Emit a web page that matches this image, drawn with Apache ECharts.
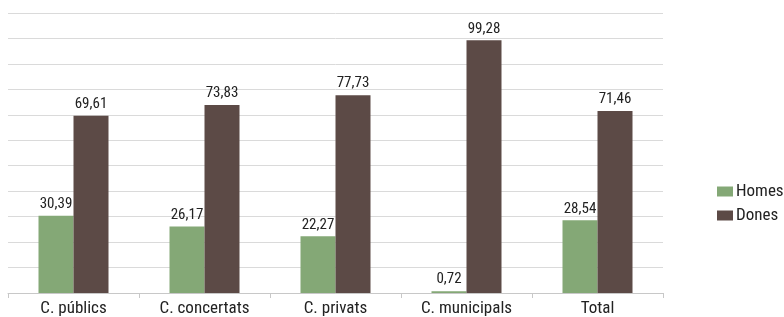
<!DOCTYPE html>
<html><head><meta charset="utf-8">
<script src="https://cdn.jsdelivr.net/npm/echarts@6/dist/echarts.min.js"></script>
<style>html,body{margin:0;padding:0;background:#fff}#c{width:784px;height:317px}</style>
</head><body><div id="c"></div>
<script>
const categories = ['C. públics', 'C. concertats', 'C. privats', 'C. municipals', 'Total'];
const homes = [30.39, 26.17, 22.27, 0.72, 28.54];
const dones = [69.61, 73.83, 77.73, 99.28, 71.46];
const seriesNames = ['Homes', 'Dones'];
const FONT = "'Liberation Sans Narrow', 'Roboto Condensed', 'Liberation Sans', sans-serif";
const fmt = p => p.value.toFixed(2).replace('.', ',');
const chart = echarts.init(document.getElementById('c'));
chart.setOption({
  animation: false,
  textStyle: { fontFamily: FONT },
  grid: { left: 8, right: 121, top: 13, bottom: 24 },
  legend: {
    orient: 'vertical', left: 712, top: 178, itemWidth: 16, itemHeight: 10, itemGap: 7,
    icon: 'rect',
    textStyle: { fontFamily: FONT, fontSize: 17, color: '#222', padding: [0, 0, 0, -2] },
    data: seriesNames
  },
  xAxis: {
    type: 'category', data: categories,
    axisLine: { lineStyle: { color: '#c8c8c8' } },
    axisTick: { show: true, length: 5, lineStyle: { color: '#c8c8c8' } },
    axisLabel: { fontFamily: FONT, fontSize: 17, color: '#222', margin: 7 }
  },
  yAxis: {
    type: 'value', min: 0, max: 110, interval: 10,
    axisLabel: { show: false }, axisLine: { show: false }, axisTick: { show: false },
    splitLine: { lineStyle: { color: '#dadada', width: 1 } }
  },
  series: [
    { name: seriesNames[0], type: 'bar', data: homes, barWidth: 35, barGap: '0%',
      itemStyle: { color: '#84a876' },
      label: { show: true, position: 'top', formatter: fmt, fontFamily: FONT, fontSize: 15, color: '#222', distance: 4 } },
    { name: seriesNames[1], type: 'bar', data: dones, barWidth: 35,
      itemStyle: { color: '#5c4a46' },
      label: { show: true, position: 'top', formatter: fmt, fontFamily: FONT, fontSize: 15, color: '#222', distance: 4 } }
  ]
});
</script></body></html>
